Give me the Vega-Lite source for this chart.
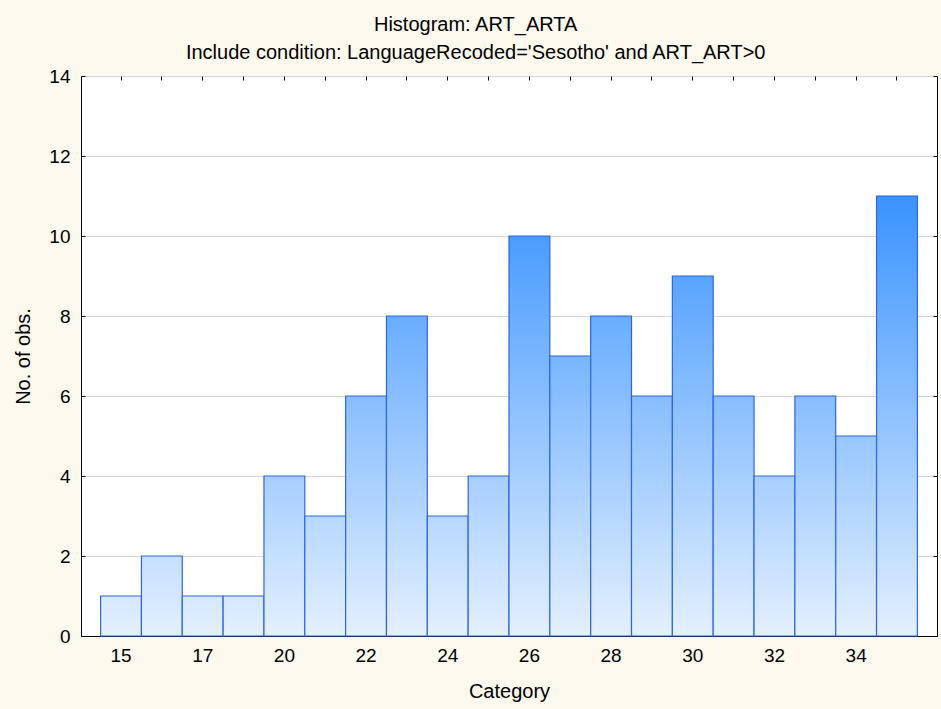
{
  "$schema": "https://vega.github.io/schema/vega-lite/v6.json",
  "autosize": "none",
  "width": 856,
  "height": 560,
  "padding": {"left": 81, "top": 76, "right": 4, "bottom": 73},
  "background": "#FDF9EE",
  "title": {
    "text": "Histogram: ART_ARTA",
    "subtitle": "Include condition: LanguageRecoded='Sesotho' and ART_ART>0",
    "font": "Liberation Sans",
    "subtitleFont": "Liberation Sans",
    "fontSize": 20,
    "subtitleFontSize": 20,
    "fontWeight": "normal",
    "color": "#000000",
    "subtitleColor": "#000000",
    "subtitlePadding": 8,
    "offset": 4,
    "anchor": "middle",
    "frame": "bounds"
  },
  "config": {
    "view": {"stroke": "#000000", "strokeWidth": 1, "fill": "#FFFFFF"},
    "axis": {
      "labelFont": "Liberation Sans",
      "titleFont": "Liberation Sans",
      "labelFontSize": 19,
      "titleFontSize": 20,
      "titleFontWeight": "normal",
      "labelColor": "#000000",
      "titleColor": "#000000",
      "domainColor": "#000000",
      "tickColor": "#000000"
    }
  },
  "data": {
    "values": [
      {"category": "15", "count": 1},
      {"category": "16", "count": 2},
      {"category": "17", "count": 1},
      {"category": "18", "count": 1},
      {"category": "20", "count": 4},
      {"category": "21", "count": 3},
      {"category": "22", "count": 6},
      {"category": "23", "count": 8},
      {"category": "24", "count": 3},
      {"category": "25", "count": 4},
      {"category": "26", "count": 10},
      {"category": "27", "count": 7},
      {"category": "28", "count": 8},
      {"category": "29", "count": 6},
      {"category": "30", "count": 9},
      {"category": "31", "count": 6},
      {"category": "32", "count": 4},
      {"category": "33", "count": 6},
      {"category": "34", "count": 5},
      {"category": "35", "count": 11}
    ]
  },
  "resolve": {"axis": {"x": "independent", "y": "independent"}},
  "layer": [
    {
      "mark": {
        "type": "bar",
        "stroke": "#2F66DE",
        "strokeWidth": 1.2,
        "fill": {"expr": "{gradient: 'linear', x1: 0, y1: 1, x2: 0, y2: 0, stops: [{offset: 0, color: '#E4F0FD'}, {offset: 1, color: 'rgb(' + round(228 - 216 * datum.count / 14) + ',' + round(240 - 118 * datum.count / 14) + ',255)'}]}"}
      },
      "encoding": {
        "x": {
          "field": "category",
          "type": "ordinal",
          "sort": null,
          "scale": {"paddingInner": 0, "paddingOuter": 0.48},
          "axis": {
            "title": "Category",
            "labelAngle": 0,
            "labelOverlap": false,
            "labelExpr": "indexof(['15','17','20','22','24','26','28','30','32','34'], datum.label) >= 0 ? datum.label : ''",
            "tickSize": -4,
            "labelPadding": 14,
            "titlePadding": 16,
            "grid": false
          }
        },
        "y": {
          "field": "count",
          "type": "quantitative",
          "scale": {"domain": [0, 14], "nice": false},
          "axis": {
            "title": "No. of obs.",
            "values": [0, 2, 4, 6, 8, 10, 12, 14],
            "tickSize": -4,
            "labelPadding": 15,
            "titlePadding": 15,
            "grid": true,
            "gridColor": "#D6D6D6",
            "gridWidth": 1
          }
        }
      }
    },
    {
      "mark": {"type": "bar", "fillOpacity": 0, "strokeOpacity": 0},
      "encoding": {
        "x": {
          "field": "category",
          "type": "ordinal",
          "sort": null,
          "axis": {
            "orient": "top",
            "title": null,
            "labels": false,
            "domain": false,
            "tickSize": -4,
            "grid": false
          }
        },
        "y": {
          "field": "count",
          "type": "quantitative",
          "axis": {
            "orient": "right",
            "title": null,
            "labels": false,
            "domain": false,
            "values": [0, 2, 4, 6, 8, 10, 12, 14],
            "tickSize": -4,
            "grid": false
          }
        }
      }
    }
  ]
}
